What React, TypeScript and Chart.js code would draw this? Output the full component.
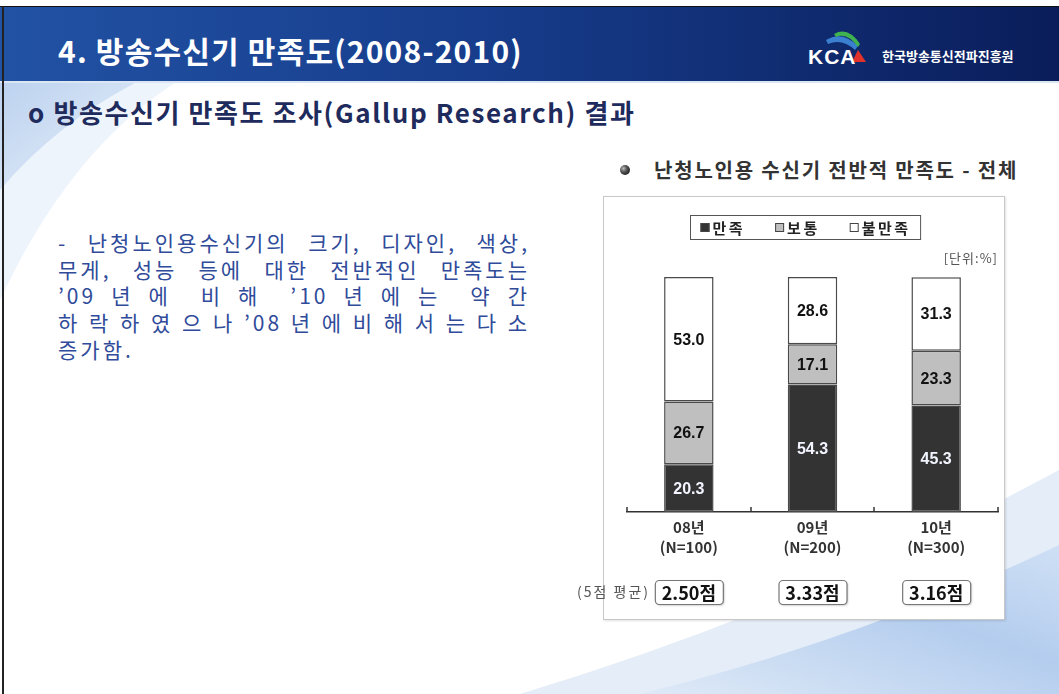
import React, { useEffect, useRef } from "react";
import { Chart, registerables } from "chart.js";

Chart.register(...registerables);

const years = ["08년", "09년", "10년"];
const sampleSizes = ["(N=100)", "(N=200)", "(N=300)"];
const seriesNames = ["만족", "보통", "불만족"];
const satisfied = [20.3, 54.3, 45.3];
const neutral = [26.7, 17.1, 23.3];
const dissatisfied = [53.0, 28.6, 31.3];
const averageScores = ["2.50", "3.33", "3.16"];
const scoreUnit = "점";
const scoreCaption = "(5점 평균)";
const unitLabel = "[단위:%]";

const seriesColors = ["#333333", "#bfbfbf", "#ffffff"];
const labelColors = ["#f2f5ff", "#111111", "#111111"];

const KR = '"Noto Sans CJK KR", "Noto Sans", sans-serif';
const NUM = '"Liberation Sans", Arial, sans-serif';

const decorPlugin = {
  id: "decor",
  afterDatasetsDraw(chart: any) {
    const ctx = chart.ctx as CanvasRenderingContext2D;
    ctx.save();
    ctx.font = `bold 16px ${NUM}`;
    ctx.textAlign = "center";
    ctx.textBaseline = "middle";
    chart.data.datasets.forEach((ds: any, i: number) => {
      const meta = chart.getDatasetMeta(i);
      meta.data.forEach((bar: any, j: number) => {
        const p = bar.getProps(["x", "y", "base"], true);
        ctx.fillStyle = labelColors[i];
        ctx.fillText(Number(ds.data[j]).toFixed(1), p.x, (p.y + p.base) / 2 + 1);
      });
    });
    ctx.restore();
  },
  afterDraw(chart: any) {
    const ctx = chart.ctx as CanvasRenderingContext2D;
    const xs = chart.scales.x;
    const area = chart.chartArea;
    ctx.save();
    // upward tick marks at category boundaries
    ctx.strokeStyle = "#333";
    ctx.lineWidth = 1.5;
    for (let i = 0; i <= chart.data.labels.length; i++) {
      const px = Math.round(xs.getPixelForValue(i - 0.5));
      ctx.beginPath();
      ctx.moveTo(px, area.bottom);
      ctx.lineTo(px, area.bottom - 5);
      ctx.stroke();
    }

    // legend box
    ctx.font = `bold 15px ${KR}`;
    (ctx as any).letterSpacing = "2.5px";
    const sq = 9;
    const gapBoxText = 3;
    const gapItems = 30;
    const padX = 10;
    const widths = chart.data.datasets.map((d: any) => ctx.measureText(d.label).width);
    const inner = widths.reduce((a: number, b: number) => a + b + sq + gapBoxText, 0) + gapItems * (widths.length - 1);
    const boxW = inner + padX * 2;
    const cx = (area.left + area.right) / 2 - 7;
    const bx = Math.round(cx - boxW / 2) + 0.5;
    const by = 19.5;
    const bh = 24;
    ctx.strokeStyle = "#555";
    ctx.lineWidth = 1;
    ctx.fillStyle = "#fff";
    ctx.fillRect(bx, by, boxW, bh);
    ctx.strokeRect(bx, by, boxW, bh);
    let cur = bx + padX;
    const cy = by + bh / 2;
    chart.data.datasets.forEach((d: any, i: number) => {
      ctx.fillStyle = d.backgroundColor;
      ctx.fillRect(cur, cy - sq / 2, sq, sq);
      ctx.strokeStyle = "#444";
      ctx.strokeRect(cur + 0.5, cy - sq / 2 + 0.5, sq - 1, sq - 1);
      ctx.fillStyle = "#222";
      ctx.textAlign = "left";
      ctx.textBaseline = "middle";
      ctx.fillText(d.label, cur + sq + gapBoxText, cy + 1);
      cur += sq + gapBoxText + widths[i] + gapItems;
    });

    // unit label
    (ctx as any).letterSpacing = "1px";
    ctx.font = `13px ${KR}`;
    ctx.fillStyle = "#555";
    ctx.textAlign = "right";
    ctx.fillText(unitLabel, area.right, 62);

    // average scores
    const sy = 396;
    (ctx as any).letterSpacing = "2px";
    ctx.font = `14px ${KR}`;
    ctx.fillStyle = "#555";
    ctx.textAlign = "right";
    ctx.fillText(scoreCaption, 90, sy);
    (ctx as any).letterSpacing = "0px";
    ctx.font = `bold 18px ${KR}`;
    averageScores.forEach((s, j) => {
      const px = xs.getPixelForValue(j);
      const w = 68;
      const h = 24;
      ctx.beginPath();
      (ctx as any).roundRect(px - w / 2 + 0.5, sy - h / 2 + 0.5, w, h, 4);
      ctx.fillStyle = "#fff";
      ctx.shadowColor = "rgba(0,0,0,0.25)";
      ctx.shadowBlur = 2;
      ctx.shadowOffsetX = 1;
      ctx.shadowOffsetY = 1;
      ctx.fill();
      ctx.shadowColor = "transparent";
      ctx.strokeStyle = "#777";
      ctx.lineWidth = 1.2;
      ctx.stroke();
      ctx.fillStyle = "#111";
      ctx.textAlign = "center";
      ctx.fillText(s + scoreUnit, px, sy + 1);
    });
    ctx.restore();
  },
};

function StackedChart() {
  const ref = useRef<HTMLCanvasElement | null>(null);
  useEffect(() => {
    if (!ref.current) return;
    const data = [satisfied, neutral, dissatisfied];
    const chart = new Chart(ref.current, {
      type: "bar",
      data: {
        labels: years.map((y, i) => [y, sampleSizes[i]]),
        datasets: seriesNames.map((name, i) => ({
          label: name,
          data: data[i],
          backgroundColor: seriesColors[i],
          borderColor: "#4a4a4a",
          borderWidth: 1.5,
          borderSkipped: false,
          barPercentage: 0.4,
          categoryPercentage: 1,
        })),
      },
      options: {
        animation: false,
        responsive: false,
        maintainAspectRatio: false,
        layout: { padding: { left: 67, right: 7, top: 81, bottom: 0 } },
        plugins: {
          legend: { display: false },
          tooltip: { enabled: false },
        },
        scales: {
          x: {
            stacked: true,
            offset: true,
            grid: { display: false, drawTicks: false, drawOnChartArea: false },
            border: { display: true, color: "#333", width: 1.5 },
            ticks: {
              color: "#333",
              padding: 5,
              font: { family: KR, size: 15, weight: "bold", lineHeight: "20px" },
            },
            afterFit: (scale: any) => {
              scale.height = 108;
            },
          },
          y: {
            stacked: true,
            display: false,
            min: 0,
            max: 100,
          },
        },
      },
      plugins: [decorPlugin],
    } as any);
    return () => chart.destroy();
  }, []);
  return (
    <canvas
      ref={ref}
      width={445}
      height={424}
      style={{ position: "absolute", left: 560, top: 196, width: 445, height: 424 }}
    />
  );
}

const bodyLines = [
  "- 난청노인용수신기의 크기, 디자인, 색상,",
  "무게, 성능 등에 대한 전반적인 만족도는",
  "’09 년 에  비 해  ’10 년 에 는  약 간",
  "하 락 하 였 으 나 ’08 년 에 비 해 서 는 다 소",
  "증가함.",
];

export default function App() {
  return (
    <div
      style={{
        position: "fixed",
        left: 0,
        top: 0,
        width: 1059,
        height: 694,
        background: "#fff",
        overflow: "hidden",
        fontFamily: KR,
      }}
    >
      <svg width={1059} height={694} style={{ position: "absolute", left: 0, top: 0 }}>
        <defs>
          <linearGradient id="hdr" x1="0" y1="0" x2="1" y2="0">
            <stop offset="0" stopColor="#2252a4" />
            <stop offset="0.45" stopColor="#173d8c" />
            <stop offset="1" stopColor="#0a1d5a" />
          </linearGradient>
          <linearGradient id="sw1" x1="0" y1="0" x2="1" y2="1">
            <stop offset="0" stopColor="#bcd2ef" />
            <stop offset="1" stopColor="#e8f0fa" />
          </linearGradient>
          <linearGradient id="sw2" x1="0" y1="1" x2="1" y2="0">
            <stop offset="0" stopColor="#dfeaf7" />
            <stop offset="0.6" stopColor="#b4cdee" />
            <stop offset="1" stopColor="#cfe0f5" />
          </linearGradient>
          <radialGradient id="ball" cx="0.35" cy="0.35" r="0.7">
            <stop offset="0" stopColor="#bbbbbb" />
            <stop offset="0.5" stopColor="#555" />
            <stop offset="1" stopColor="#222" />
          </radialGradient>
        </defs>
        <rect x={0} y={0} width={1059} height={694} fill="#fff" />
        <path d="M0,83 L175,83 Q70,150 0,300 Z" fill="#eef4fb" />
        <path d="M0,83 L135,83 Q55,125 0,190 Z" fill="url(#sw1)" />
        <path d="M520,694 Q800,610 1059,470 L1059,694 Z" fill="#e4edf8" />
        <path d="M640,694 Q860,640 1059,545 L1059,694 Z" fill="url(#sw2)" />
        <rect x={0} y={6} width={1059} height={75} fill="url(#hdr)" />
        <line x1={0} y1={6.5} x2={1059} y2={6.5} stroke="#111" strokeWidth={1} />
        <rect x={0} y={81} width={1059} height={2} fill="#dbe6f4" />
        <line x1={3} y1={6} x2={3} y2={694} stroke="#222" strokeWidth={2} />
        <path d="M826,40 Q842,30 858,46 L855,50 Q842,38 828,44 Z" fill="#3a7fd0" />
        <path d="M834,34 Q848,26 860,44 L858,47 Q847,32 836,37 Z" fill="#3fb34f" />
        <path d="M858,50 L866,62 L852,62 Z" fill="#e0322b" />
        <text x={808} y={64} fill="#fff" fontSize={21} fontWeight="bold" letterSpacing={1} fontFamily='"Liberation Sans", Arial, sans-serif'>
          KCA
        </text>
        <text x={882} y={61} fill="#fff" fontSize={13} fontWeight="bold" fontFamily={KR}>
          한국방송통신전파진흥원
        </text>
        <circle cx={625} cy={170} r={5} fill="url(#ball)" />
      </svg>

      <div
        style={{
          position: "absolute",
          left: 58,
          top: 29,
          height: 42,
          lineHeight: "42px",
          color: "#fff",
          fontSize: 30,
          fontWeight: 700,
          letterSpacing: 1.2,
          whiteSpace: "nowrap",
        }}
      >
        4. 방송수신기 만족도(2008-2010)
      </div>

      <div
        style={{
          position: "absolute",
          left: 28,
          top: 96,
          height: 32,
          lineHeight: "32px",
          color: "#1e2b5c",
          fontSize: 26,
          fontWeight: 700,
          letterSpacing: 1.6,
          whiteSpace: "nowrap",
        }}
      >
        o 방송수신기 만족도 조사(Gallup Research) 결과
      </div>

      <div style={{ position: "absolute", left: 58, top: 229, width: 472, color: "#2f4b9a", fontSize: 21, letterSpacing: 3 }}>
        {bodyLines.map((l, i) => (
          <div
            key={i}
            style={{
              height: 26.7,
              lineHeight: "26.7px",
              whiteSpace: "pre",
              textAlign: i < bodyLines.length - 1 ? "justify" : "left",
              textAlignLast: i < bodyLines.length - 1 ? "justify" : "left",
            } as any}
          >
            {l}
          </div>
        ))}
      </div>

      <div
        style={{
          position: "absolute",
          left: 654,
          top: 156,
          height: 28,
          lineHeight: "28px",
          color: "#333",
          fontSize: 20,
          fontWeight: 700,
          whiteSpace: "nowrap",
          letterSpacing: 1.8,
        }}
      >
        난청노인용 수신기 전반적 만족도 - 전체
      </div>

      <div
        style={{
          position: "absolute",
          left: 603,
          top: 196,
          width: 400,
          height: 422,
          border: "1px solid #c8c8c8",
          background: "#fff",
          boxShadow: "1px 1px 2px rgba(0,0,0,0.12)",
        }}
      />
      <StackedChart />
    </div>
  );
}
